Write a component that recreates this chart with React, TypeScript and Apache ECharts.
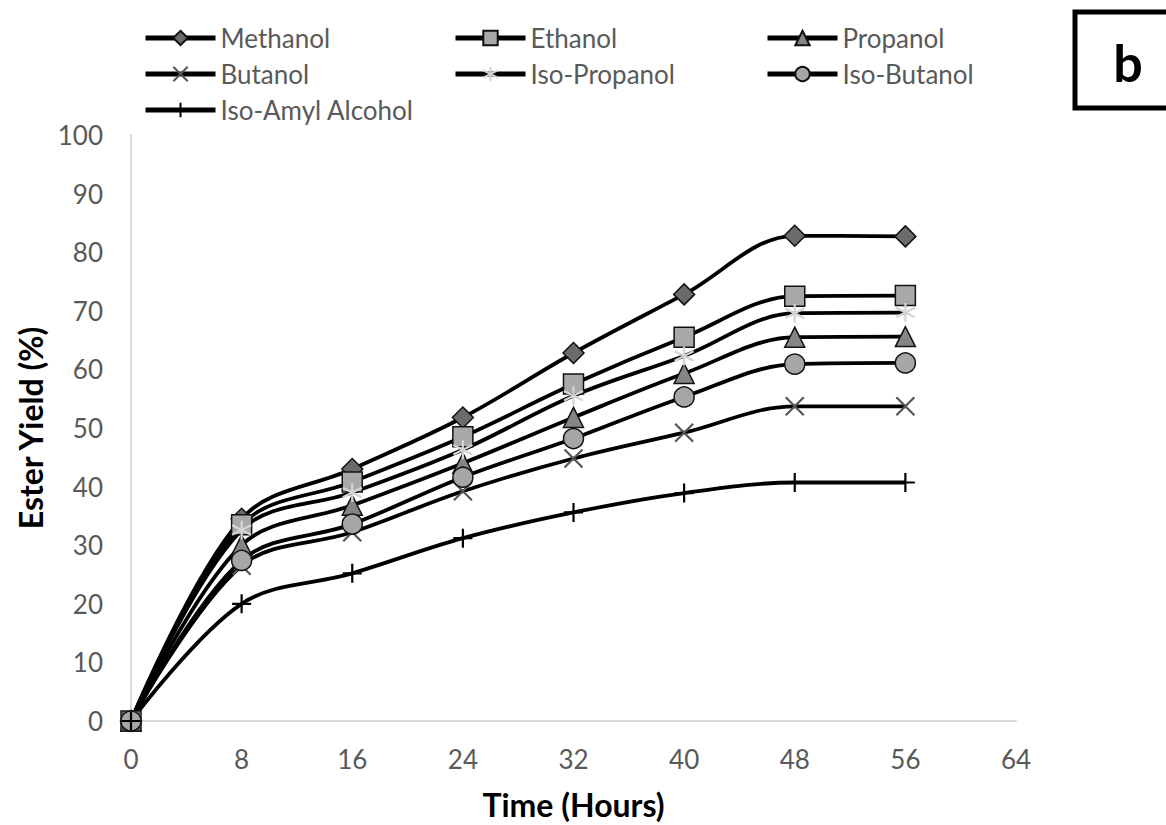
import React, { useEffect, useRef } from "react";
import * as echarts from "echarts";

const hours = [0, 8, 16, 24, 32, 40, 48, 56];
const methanol = [0, 34.5, 43, 51.8, 62.8, 72.8, 82.8, 82.7];
const ethanol = [0, 33.5, 40.8, 48.5, 57.5, 65.5, 72.5, 72.6];
const propanol = [0, 30, 36.8, 44, 51.8, 59.3, 65.5, 65.6];
const butanol = [0, 26.5, 32.2, 39.2, 44.8, 49.2, 53.7, 53.7];
const isoPropanol = [0, 32.6, 39, 46.3, 55.5, 62.3, 69.6, 69.7];
const isoButanol = [0, 27.4, 33.6, 41.6, 48.2, 55.3, 60.9, 61.1];
const isoAmyl = [0, 20, 25.2, 31.2, 35.6, 38.9, 40.7, 40.7];

const xTicks = { min: 0, max: 64, interval: 8 };
const yTicks = { min: 0, max: 100, interval: 10 };

const FONT = "Lato";

const X_PATH = "path://M0 0 L10 10 M10 0 L0 10";
const AST_PATH = "path://M5 0 L5 10 M0.7 2.5 L9.3 7.5 M0.7 7.5 L9.3 2.5";
const PLUS_PATH = "path://M5 0 L5 10 M0 5 L10 5";

type S = {
  name: string;
  data: number[];
  symbol: string;
  size: number;
  fill: string;
  border: string;
  bw: number;
};

const seriesDefs: S[] = [
  { name: "Methanol", data: methanol, symbol: "diamond", size: 21, fill: "#6b6b6b", border: "#111", bw: 1.5 },
  { name: "Ethanol", data: ethanol, symbol: "rect", size: 20, fill: "#a9a9a9", border: "#111", bw: 1.5 },
  { name: "Propanol", data: propanol, symbol: "triangle", size: 20, fill: "#858585", border: "#111", bw: 1.5 },
  { name: "Butanol", data: butanol, symbol: X_PATH, size: 18, fill: "none", border: "#555", bw: 2.2 },
  { name: "Iso-Propanol", data: isoPropanol, symbol: AST_PATH, size: 19, fill: "none", border: "#d4d4d4", bw: 2.2 },
  { name: "Iso-Butanol", data: isoButanol, symbol: "circle", size: 20, fill: "#a6a6a6", border: "#111", bw: 1.5 },
  { name: "Iso-Amyl Alcohol", data: isoAmyl, symbol: PLUS_PATH, size: 19, fill: "none", border: "#000", bw: 2.2 },
];

const legendText = { fontFamily: FONT, fontSize: 26, color: "#595959", lineHeight: 30 };

export default function App() {
  const ref = useRef<HTMLDivElement>(null);
  useEffect(() => {
    if (!ref.current) return;
    const chart = echarts.init(ref.current, undefined, { renderer: "svg" });
    const mkLegend = (names: string[], left: number) => ({
      data: names,
      orient: "vertical",
      left,
      top: 23,
      itemGap: 6,
      itemWidth: 70,
      itemHeight: 18,
      textStyle: legendText,
      lineStyle: { width: 5, color: "#000" },
      selectedMode: false,
      padding: 0,
    });
    chart.setOption({
      animation: false,
      backgroundColor: "#fff",
      grid: { left: 131, right: 150, top: 135, bottom: 104, containLabel: false },
      legend: [
        mkLegend(["Methanol", "Butanol", "Iso-Amyl Alcohol"], 143),
        mkLegend(["Ethanol", "Iso-Propanol"], 453),
        mkLegend(["Propanol", "Iso-Butanol"], 765),
      ],
      xAxis: {
        type: "value",
        ...xTicks,
        name: "Time (Hours)",
        nameLocation: "middle",
        nameGap: 67,
        nameTextStyle: { fontFamily: FONT, fontSize: 32, fontWeight: "bold", color: "#000" },
        axisLine: { show: true, lineStyle: { color: "#d9d9d9", width: 2 } },
        axisTick: { show: false },
        splitLine: { show: false },
        axisLabel: { fontFamily: FONT, fontSize: 26, color: "#595959", margin: 25 },
      },
      yAxis: {
        type: "value",
        ...yTicks,
        name: "Ester Yield (%)",
        nameLocation: "middle",
        nameRotate: 90,
        nameGap: 84,
        nameTextStyle: { fontFamily: FONT, fontSize: 32, fontWeight: "bold", color: "#000" },
        axisLine: { show: true, lineStyle: { color: "#d9d9d9", width: 2 } },
        axisTick: { show: false },
        splitLine: { show: false },
        axisLabel: { fontFamily: FONT, fontSize: 26, color: "#595959", margin: 28 },
      },
      series: seriesDefs.map((s) => ({
        name: s.name,
        type: "line",
        data: s.data.map((v, i) => [hours[i], v]),
        smooth: 0.35,
        symbol: s.symbol,
        symbolSize: s.size,
        showAllSymbol: true,
        lineStyle: { color: "#000", width: 3.8 },
        itemStyle: { color: s.fill, borderColor: s.border, borderWidth: s.bw },
        emphasis: { disabled: true },
      })),
      graphic: [
        {
          type: "rect",
          shape: { x: 1075, y: 12, width: 110, height: 96 },
          style: { fill: "#fff", stroke: "#000", lineWidth: 5 },
        },
        {
          type: "text",
          x: 1128,
          y: 62,
          style: {
            text: "b",
            fontFamily: FONT,
            fontSize: 52,
            fontWeight: "bold",
            fill: "#000",
            align: "center",
            verticalAlign: "middle",
          },
        },
      ],
    });
    return () => chart.dispose();
  }, []);
  return (
    <div
      ref={ref}
      style={{ position: "absolute", left: 0, top: 0, width: 1166, height: 825 }}
    />
  );
}
